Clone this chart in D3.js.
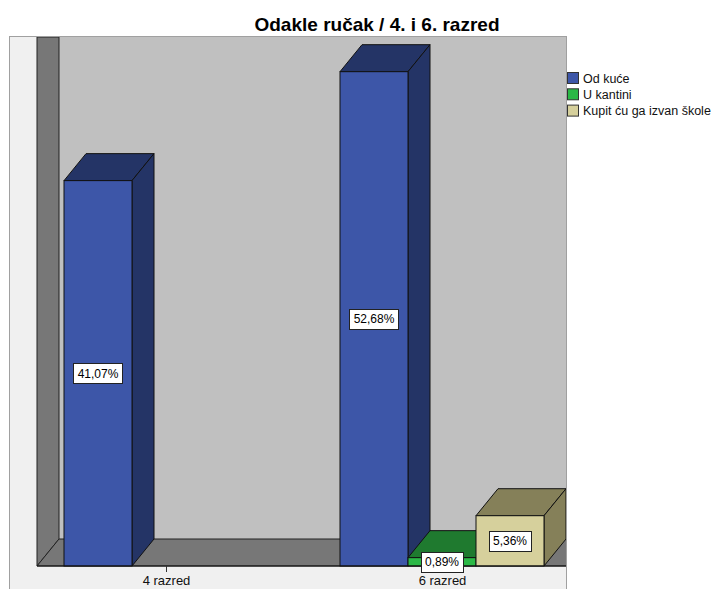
<!DOCTYPE html>
<html>
<head>
<meta charset="utf-8">
<script src="https://cdn.jsdelivr.net/npm/d3@7"></script>
<style>
  body { margin: 0; background: #fff; }
  text { font-family: "Liberation Sans", Arial, sans-serif; }
</style>
</head>
<body>
<div id="chart"></div>
<script>
var categories = ["4 razred", "6 razred"];
var series = ["Od kuće", "U kantini", "Kupit ću ga izvan škole"];
// percent values per series, one entry per category (null = no bar)
var odKuce = [41.07, 52.68];
var uKantini = [null, 0.89];
var kupit = [null, 5.36];
var values = [odKuce, uKantini, kupit];

var frontColor = ["#3d56a8", "#2bb846", "#d6d09c"];
var darkColor = ["#243466", "#1f7a2f", "#858059"];

var W = 717, H = 589;
var frame = {left: 9, top: 37, right: 566, bottom: 600};
var depth = {dx: 22, dy: -27};
var floorY = 566, wallX = 37;

var svg = d3.select("#chart").append("svg")
    .attr("width", W)
    .attr("height", H);

// scales
var y = d3.scaleLinear().domain([0, 60]).range([floorY, 3]);
var x = d3.scalePoint().domain(categories).range([166, 442]);
var xs = d3.scaleBand().domain(series).range([-102, 102]);

// title
svg.append("text")
    .attr("x", 377)
    .attr("y", 31)
    .attr("text-anchor", "middle")
    .style("font-size", "19px")
    .style("font-weight", "bold")
    .text("Odakle ručak / 4. i 6. razred");

svg.append("clipPath").attr("id", "clip")
  .append("rect")
    .attr("x", frame.left)
    .attr("y", frame.top)
    .attr("width", frame.right - frame.left)
    .attr("height", frame.bottom - frame.top);

// outer frame
svg.append("rect")
    .attr("x", frame.left + 0.5)
    .attr("y", frame.top - 0.5)
    .attr("width", frame.right - frame.left)
    .attr("height", frame.bottom - frame.top)
    .attr("fill", "#f0f0f0")
    .attr("stroke", "#a0a0a0");

var g = svg.append("g").attr("clip-path", "url(#clip)");

function pts(a) { return a.map(function(p) { return p.join(","); }).join(" "); }

// back wall
g.append("rect")
    .attr("x", wallX + depth.dx)
    .attr("y", frame.top)
    .attr("width", frame.right - wallX - depth.dx)
    .attr("height", floorY + depth.dy - frame.top)
    .attr("fill", "#c0c0c0");

// left wall
g.append("polygon")
    .attr("points", pts([[wallX, frame.top], [wallX + depth.dx, frame.top],
        [wallX + depth.dx, floorY + depth.dy], [wallX, floorY]]))
    .attr("fill", "#777777")
    .attr("stroke", "#222")
    .attr("stroke-width", 1);

// floor
g.append("polygon")
    .attr("points", pts([[wallX, floorY], [wallX + depth.dx, floorY + depth.dy],
        [frame.right + 40, floorY + depth.dy], [frame.right + 40, floorY]]))
    .attr("fill", "#777777")
    .attr("stroke", "#222")
    .attr("stroke-width", 1);

// bars, left to right
var bars = [];
categories.forEach(function(c, ci) {
    series.forEach(function(s, si) {
        var v = values[si][ci];
        if (v == null) return;
        bars.push({cat: c, ser: s, si: si, v: v});
    });
});

bars.forEach(function(d) {
    var x0 = x(d.cat) + xs(d.ser), x1 = x0 + xs.bandwidth();
    var y0 = floorY, y1 = y(d.v);
    var b = g.append("g");
    b.append("polygon")
        .attr("points", pts([[x0, y1], [x1, y1], [x1 + depth.dx, y1 + depth.dy], [x0 + depth.dx, y1 + depth.dy]]))
        .attr("fill", darkColor[d.si]).attr("stroke", "#111").attr("stroke-linejoin", "round");
    b.append("polygon")
        .attr("points", pts([[x1, y0], [x1, y1], [x1 + depth.dx, y1 + depth.dy], [x1 + depth.dx, y0 + depth.dy]]))
        .attr("fill", darkColor[d.si]).attr("stroke", "#111").attr("stroke-linejoin", "round");
    b.append("rect")
        .attr("x", x0).attr("y", y1)
        .attr("width", x1 - x0).attr("height", y0 - y1)
        .attr("fill", frontColor[d.si]).attr("stroke", "#111");
});

// axis
g.append("line")
    .attr("x1", wallX).attr("x2", frame.right)
    .attr("y1", floorY).attr("y2", floorY)
    .attr("stroke", "#111");

var axis = svg.append("g")
    .attr("transform", "translate(0," + floorY + ")")
    .call(d3.axisBottom(x).tickSize(6).tickPadding(4));
axis.select(".domain").remove();
axis.selectAll("line").attr("stroke", "#333");
axis.selectAll("text")
    .style("font-family", "'Liberation Sans', Arial, sans-serif")
    .style("font-size", "13px")
    .attr("fill", "#111");

// value labels
bars.forEach(function(d) {
    var cx = x(d.cat) + xs(d.ser) + xs.bandwidth() / 2;
    var cy = (y(d.v) + floorY) / 2;
    var lab = d3.format(".2f")(d.v).replace(".", ",") + "%";
    var lg = svg.append("g");
    var t = lg.append("text")
        .attr("x", cx).attr("y", cy + 4.5)
        .attr("text-anchor", "middle")
        .style("font-size", "12px")
        .attr("fill", "#000")
        .text(lab);
    var bb = t.node().getBBox();
    lg.insert("rect", "text")
        .attr("x", Math.round(cx - bb.width / 2 - 4) + 0.5)
        .attr("y", Math.round(cy - 10) + 0.5)
        .attr("width", Math.round(bb.width + 8))
        .attr("height", 20)
        .attr("fill", "#fff")
        .attr("stroke", "#222");
});

// legend
var legend = svg.selectAll(".legend")
    .data(series)
    .enter().append("g")
    .attr("class", "legend")
    .attr("transform", function(d, i) { return "translate(567," + (72 + i * 16.3) + ")"; });

legend.append("rect")
    .attr("x", 0.5).attr("y", 0.5)
    .attr("width", 11).attr("height", 11)
    .attr("fill", function(d, i) { return frontColor[i]; })
    .attr("stroke", "#333");

legend.append("text")
    .attr("x", 16)
    .attr("y", 10.5)
    .style("font-size", "12.5px")
    .attr("fill", "#111")
    .text(function(d) { return d; });
</script>
</body>
</html>
